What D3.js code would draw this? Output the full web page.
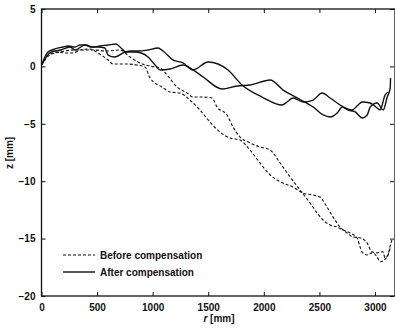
<!DOCTYPE html>
<html><head><meta charset="utf-8">
<script src="https://cdn.jsdelivr.net/npm/d3@7"></script>
<style>
html,body{margin:0;padding:0;background:#fff;}
svg{display:block;font-family:"Liberation Sans",Arial,sans-serif;}
</style></head>
<body><svg id="c" width="395" height="330"></svg>
<script>
const xTicks = [0, 500, 1000, 1500, 2000, 2500, 3000];
const yTicks = [5, 0, -5, -10, -15, -20];
const legendLabels = ["Before compensation", "After compensation"];

// Before compensation, run 1
const before1R = [0,58,148,211,283,346,436,508,598,643,769,859,931,976,1021,1084,1156,1246,1335,1425,1515,1605,1695,1785,1875,1965,2055,2172,2262,2352,2442,2505,2568,2622,2685,2748,2802,2865,2928,2973,3018,3072,3090,3117,3135,3153];
const before1Z = [0.1,1.0,1.25,1.17,1.17,1.43,1.52,1.17,0.56,0.21,0.21,0.12,-0.05,-1.01,-1.45,-1.79,-2.23,-2.32,-2.93,-3.8,-4.84,-5.71,-6.24,-6.41,-7.28,-8.41,-9.44,-10.16,-10.5,-11.03,-11.2,-11.38,-12.24,-13.11,-13.99,-14.51,-14.86,-14.93,-15.37,-16.15,-16.24,-16.15,-16.67,-16.41,-15.7,-15.1];
// Before compensation, run 2
const before2R = [0,76,166,301,391,463,589,706,796,886,976,1066,1129,1219,1309,1363,1453,1534,1579,1669,1723,1786,1876,1966,2056,2146,2236,2326,2416,2479,2533,2596,2659,2713,2776,2839,2866,2884,2929,2974,3019,3046,3109,3137];
const before2Z = [0.1,1.0,1.25,1.43,1.43,1.43,1.34,1.43,0.82,0.3,0.03,-0.14,-0.75,-1.79,-2.32,-2.67,-2.67,-2.75,-3.54,-4.23,-5.28,-6.15,-6.67,-7.02,-7.28,-8.41,-9.63,-10.77,-11.9,-12.77,-13.38,-13.82,-13.99,-14.25,-14.51,-14.95,-15.73,-16.17,-16.42,-16.24,-16.59,-17.02,-16.59,-15.8];
// After compensation, run 1
const after1R = [0,85,175,256,302,391,445,508,571,598,661,751,805,868,958,1048,1093,1183,1273,1363,1498,1678,1804,1984,2164,2209,2263,2353,2443,2524,2596,2686,2731,2794,2848,2884,2956,3019,3046,3091,3118];
const after1Z = [0.12,1.25,1.43,1.69,1.43,1.86,1.69,1.69,1.6,0.99,0.82,1.25,1.34,1.34,1.43,1.6,1.34,0.56,0.3,-0.31,0.38,-0.31,-1.62,-2.67,-3.36,-3.1,-2.75,-3.1,-2.93,-2.32,-2.75,-3.36,-3.62,-3.8,-3.36,-3.1,-3.19,-3.62,-3.8,-2.49,-2.23];
// After compensation, run 2
const after2R = [0,58,122,194,238,302,346,400,464,527,598,671,716,761,842,896,959,1022,1067,1157,1274,1364,1454,1625,1760,1877,2057,2174,2300,2444,2534,2597,2660,2705,2759,2822,2885,2930,2957,3020,3074,3110,3137,3140];
const after2Z = [0.12,1.25,1.52,1.69,1.78,1.69,1.86,1.86,1.69,1.78,1.86,1.95,1.6,1.25,1.25,1.17,0.82,0.12,-0.31,-0.23,0.12,-0.31,-0.92,-1.97,-1.71,-1.62,-1.18,-2.06,-2.75,-3.54,-4.23,-4.41,-4.06,-3.54,-3.8,-3.97,-4.49,-4.23,-3.54,-3.19,-3.8,-2.67,-1.88,-1.01];

const svg = d3.select("#c");
const L = 41.5, R = 395, T = 9, B = 296;
const x = d3.scaleLinear().domain([0, 3180]).range([L, R]);
const y = d3.scaleLinear().domain([-20, 5]).range([B, T]);

svg.append("defs").append("clipPath").attr("id","clip")
  .append("rect").attr("x",L).attr("y",T).attr("width",R-L).attr("height",B-T);

const zip = (a,b) => a.map((v,i)=>[v,b[i]]);
const line = d3.line().x(d=>x(d[0])).y(d=>y(d[1])).curve(d3.curveMonotoneX);
const g = svg.append("g").attr("clip-path","url(#clip)");
const series = [
  {d: zip(before1R,before1Z), dash:"3,2", w:1.1},
  {d: zip(before2R,before2Z), dash:"3,2", w:1.1},
  {d: zip(after1R,after1Z), dash:null, w:1.4},
  {d: zip(after2R,after2Z), dash:null, w:1.4}
];
series.forEach(s=>{
  g.append("path").attr("d", line(s.d)).attr("fill","none").attr("stroke","#111")
   .attr("stroke-width", s.w).attr("stroke-dasharray", s.dash);
});

// axes (ticks inside, all four sides)
const tl = 4;
const fmt = d3.format("d");
const ax = svg.append("g");
ax.append("g").attr("transform",`translate(0,${B})`)
  .call(d3.axisBottom(x).tickValues(xTicks).tickSizeInner(-tl).tickSizeOuter(0).tickPadding(8).tickFormat(fmt))
  .call(a=>a.select(".domain").remove());
ax.append("g").attr("transform",`translate(0,${T})`)
  .call(d3.axisTop(x).tickValues(xTicks).tickSizeInner(-tl).tickSizeOuter(0).tickFormat(""))
  .call(a=>a.select(".domain").remove());
ax.append("g").attr("transform",`translate(${L},0)`)
  .call(d3.axisLeft(y).tickValues(yTicks).tickSizeInner(-tl).tickSizeOuter(0).tickPadding(6).tickFormat(fmt))
  .call(a=>a.select(".domain").remove());
ax.append("g").attr("transform",`translate(${R-1},0)`)
  .call(d3.axisRight(y).tickValues(yTicks).tickSizeInner(-tl).tickSizeOuter(0).tickFormat(""))
  .call(a=>a.select(".domain").remove());
svg.selectAll(".tick line").attr("stroke","#111").attr("stroke-width",1);
svg.selectAll(".tick text").attr("fill","#111").attr("font-family","'Liberation Sans',Arial,sans-serif").attr("font-weight","bold").attr("font-size","10px");

svg.append("rect").attr("x",L).attr("y",T).attr("width",R-L).attr("height",B-T)
  .attr("fill","none").attr("stroke","#111").attr("stroke-width",1.3);

// axis titles
svg.append("text").attr("x",219).attr("y",322).attr("text-anchor","middle")
  .attr("font-size","10px").attr("font-weight","bold").attr("fill","#111")
  .html('<tspan font-style="italic">r</tspan> [mm]');
svg.append("text").attr("transform","translate(13,153) rotate(-90)").attr("text-anchor","middle")
  .attr("font-size","10px").attr("font-weight","bold").attr("fill","#111")
  .text("z [mm]");

// legend
const lg = svg.append("g");
[0,1].forEach(i=>{
  const yy = 255 + i*17;
  lg.append("line").attr("x1",63).attr("x2",95).attr("y1",yy).attr("y2",yy)
    .attr("stroke","#111").attr("stroke-width", i===0?1.1:1.4).attr("stroke-dasharray", i===0?"3,2":null);
  lg.append("text").attr("x",100).attr("y",yy+3.5).attr("font-size","10px").attr("font-weight","bold")
    .attr("fill","#111").text(legendLabels[i]);
});
</script></body></html>
